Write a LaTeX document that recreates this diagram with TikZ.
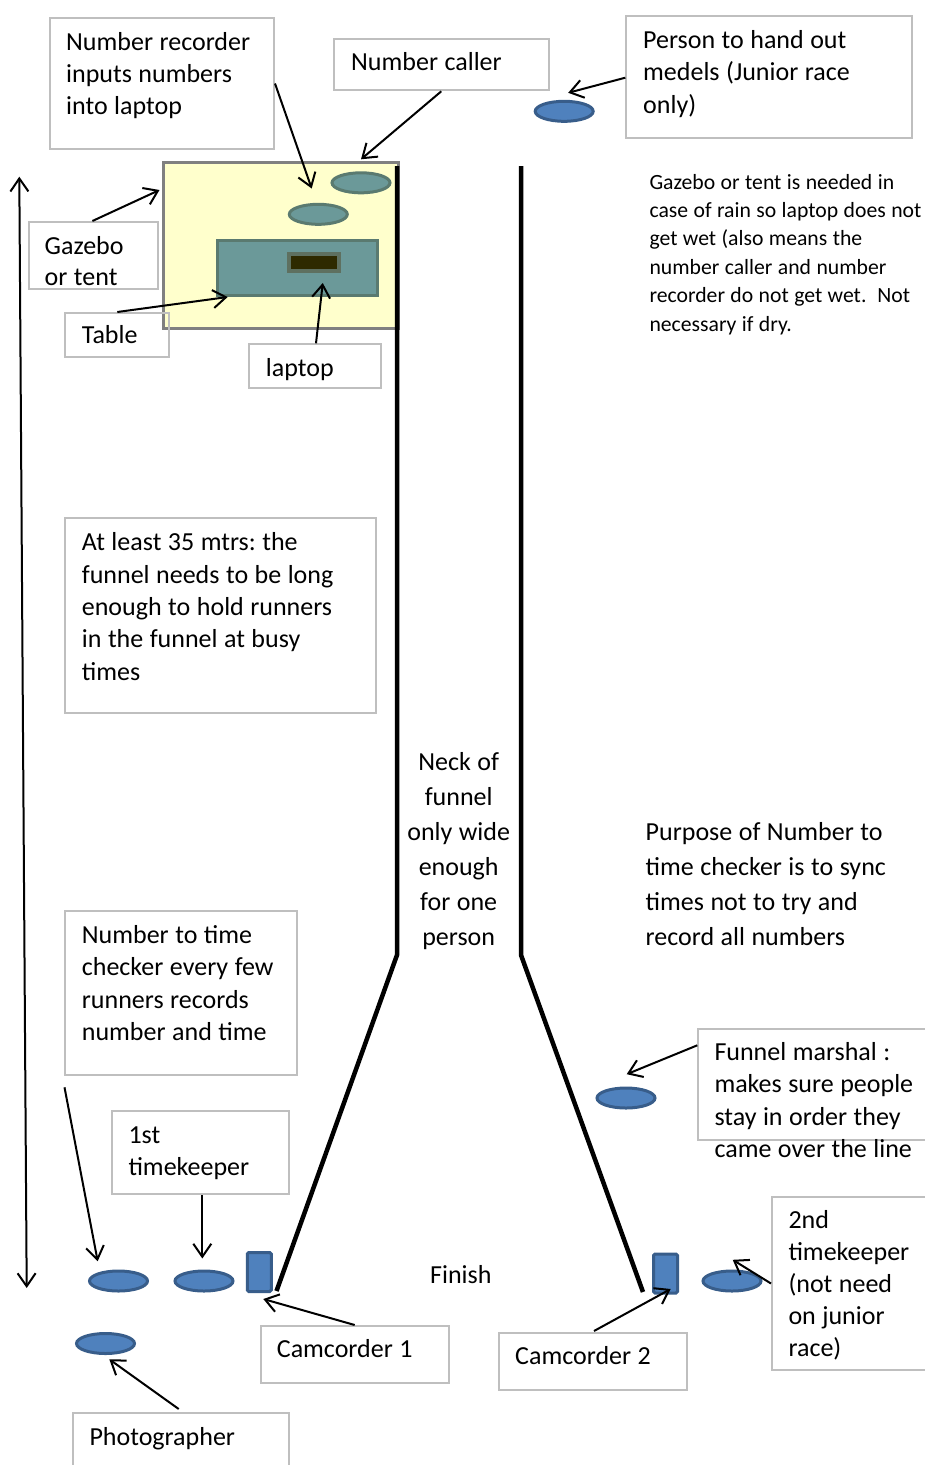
\documentclass[tikz,border=0pt]{standalone}
\usepackage{fontspec}
\setmainfont{Carlito}
\usetikzlibrary{arrows.meta,shapes.geometric,calc}
\definecolor{boxgray}{HTML}{BFBFBF}
\definecolor{gazfill}{HTML}{FFFFCC}
\definecolor{gazline}{HTML}{808080}
\definecolor{tealfill}{HTML}{6B9999}
\definecolor{tealline}{HTML}{5A7A70}
\definecolor{scrline}{HTML}{5E7060}
\definecolor{scrfill}{HTML}{2E2A00}
\definecolor{bluefill}{HTML}{4F81BD}
\definecolor{blueline}{HTML}{385D8A}
\frenchspacing
\newcommand\tsz[2]{\fontsize{#1}{#2}\selectfont}
\begin{document}
\begin{tikzpicture}[x=1pt,y=-1pt,
  tight/.style={execute at begin node={\spaceskip=0.25em\relax}},
  box/.style={draw=boxgray,line width=2pt,rectangle,inner sep=0pt,anchor=north west},
  txt/.style={tight,anchor=base west,inner sep=0pt,text width=330pt,align=left,font=\tsz{26}{32.4}},
  small/.style={tight,anchor=base west,inner sep=0pt,text width=300pt,align=left,font=\tsz{21.7}{28.4}},
  person/.style={ellipse,draw=blueline,fill=bluefill,line width=3pt,minimum width=58pt,minimum height=20pt,inner sep=0pt},
  tperson/.style={ellipse,draw=tealline,fill=tealfill,line width=3pt,minimum width=58pt,minimum height=20pt,inner sep=0pt},
  cam/.style={rectangle,rounded corners=1.5pt,draw=blueline,fill=bluefill,line width=3pt,minimum width=24pt,minimum height=39pt,inner sep=0pt},
  arr/.style={line width=2pt,-{Straight Barb[length=13pt,width=18pt]}},
  funnel/.style={line width=4.5pt}]
\useasboundingbox (0,0) rectangle (924,1465);

% gazebo and its contents
\node[draw=gazline,fill=gazfill,line width=3pt,rectangle,inner sep=0pt,anchor=north west,minimum width=235pt,minimum height=166pt] (gazebo) at (161.5,161) {};
\node[draw=tealline,fill=tealfill,line width=3pt,rectangle,inner sep=0pt,anchor=north west,minimum width=160pt,minimum height=55pt] (table) at (216,239) {};
\node[draw=scrline,line width=4.5pt,fill=scrfill,rectangle,inner sep=0pt,anchor=north west,minimum width=50pt,minimum height=17pt] (laptop) at (286.5,251.5) {};
\node[tperson] (recorder) at (318.3,214.3) {};
\node[tperson] (caller) at (361,182.8) {};

% funnel
\coordinate (lt) at (397,166);
\coordinate (lb) at (397,955);
\coordinate (le) at (276.5,1291);
\coordinate (rt) at (521,166);
\coordinate (rb) at (521,955);
\coordinate (re) at (643,1292);
\draw[funnel] (lt) -- (lb) -- (le);
\draw[funnel] (rt) -- (rb) -- (re);

% people and cameras
\node[person] (medal) at (564.2,111.3) {};
\node[person] (checker) at (118.5,1281) {};
\node[person] (tk1) at (204,1281) {};
\node[person] (photo) at (105.5,1343.5) {};
\node[person] (marshal) at (626,1098) {};
\node[person] (tk2) at (732,1281) {};
\node[cam] (cam1) at (259.3,1272) {};
\node[cam] (cam2) at (665.5,1273.5) {};

% label boxes
\node[box,minimum width=224pt,minimum height=131pt] (brec) at (49,17) {};
\node[box,minimum width=215pt,minimum height=51pt] (bcaller) at (333.3,38.3) {};
\node[box,minimum width=286pt,minimum height=122pt] (bperson) at (625.3,15) {};
\node[box,minimum width=129pt,minimum height=67pt] (bgaz) at (27.7,221) {};
\node[box,minimum width=104pt,minimum height=44pt] (btable) at (64.3,312) {};
\node[box,minimum width=132pt,minimum height=44pt] (blaptop) at (248.3,343.3) {};
\node[box,minimum width=311pt,minimum height=195pt] (bleast) at (64.3,517) {};
\node[box,minimum width=232pt,minimum height=164pt] (bntt) at (64.3,910.3) {};
\node[box,minimum width=177pt,minimum height=83pt] (btk1) at (111,1110.3) {};
\node[box,minimum width=240pt,minimum height=111pt] (bmarshal) at (697.3,1028.3) {};
\node[box,minimum width=170pt,minimum height=173pt] (btk2) at (771,1196) {};
\node[box,minimum width=188pt,minimum height=57pt] (bcam1) at (259.7,1325) {};
\node[box,minimum width=188pt,minimum height=57pt] (bcam2) at (497.7,1332) {};
\node[box,minimum width=216pt,minimum height=70pt] (bphoto) at (72,1412) {};

% texts
\node[txt] (trec) at (66,50) {Number recorder\\inputs numbers\\into laptop};
\node[txt] (tcaller) at (351,70.7) {Number caller};
\node[txt] (tperson) at (643,48.5) {Person to hand out\\medels (Junior race\\only)};
\node[txt,font=\tsz{26}{31.7}] (tgaz) at (44.5,254) {Gazebo\\or tent};
\node[txt] (ttable) at (81.7,343.3) {Table};
\node[txt] (tlaptop) at (265.7,376) {laptop};
\node[small] (tnote) at (649.3,189) {Gazebo or tent is needed in\\case of rain so laptop does not\\get wet (also means the\\number caller and number\\recorder do not get wet.\ \ Not\\necessary if dry.};
\node[txt] (tleast) at (81.7,550.7) {At least 35 mtrs: the\\funnel needs to be long\\enough to hold runners\\in the funnel at busy\\times};
\node[tight,anchor=base,inner sep=0pt,text width=140pt,align=center,font=\tsz{26}{35}] (tneck) at (458.7,770.7) {Neck of\\funnel\\only wide\\enough\\for one\\person};
\node[txt,font=\tsz{26}{35}] (tpurpose) at (645.5,840) {Purpose of Number to\\time checker is to sync\\times not to try and\\record all numbers};
\node[txt] (tntt) at (81.7,943.3) {Number to time\\checker every few\\runners records\\number and time};
\node[txt,font=\tsz{26}{32}] (ttk1) at (128.3,1143.3) {1st\\timekeeper};
\node[txt,font=\tsz{26}{32.2}] (tmarshal) at (714.3,1060.7) {Funnel marshal :\\makes sure people\\stay in order they\\came over the line};
\node[txt,font=\tsz{26}{32.1}] (ttk2) at (788.3,1228.3) {2nd\\timekeeper\\(not need\\on junior\\race)};
\node[txt] (tfinish) at (430,1283.3) {Finish};
\node[txt] (tcam1) at (276.7,1357.7) {Camcorder 1};
\node[txt] (tcam2) at (515,1364.3) {Camcorder 2};
\node[txt] (tphoto) at (89.3,1445) {Photographer};

% connectors
\draw[arr] (brec.east) -- ($(recorder.north)+(-6.6,-14.3)$);
\draw[arr] ($(bcaller.south)+(-0.5,0)$) -- ($(caller.north)+(0,-12)$);
\draw[arr] ($(bperson.west)+(0,0.7)$) -- ($(medal.north)+(4,-7)$);
\draw[arr] ($(bgaz.north)+(-0.8,0)$) -- ($(gazebo.north west)+(-2,29)$);
\draw[arr] ($(btable.north)+(0,0)$) -- ($(table.south west)+(11.7,0)$);
\draw[arr] ($(blaptop.north)+(0.7,0)$) -- ($(laptop.south)+(9,10)$);
\draw[arr] ($(bntt.south west)+(0.2,11)$) -- ($(checker.north)+(-20.8,-8.3)$);
\draw[arr] ($(btk1.south)+(1.8,0)$) -- ($(tk1.north)+(-1.7,-11)$);
\draw[arr] ($(bcam1.north)+(0,0)$) -- ($(cam1.south)+(4,6)$);
\draw[arr] ($(bphoto.north)+(-2.3,-3)$) -- ($(photo.south)+(3.8,4.3)$);
\draw[arr] ($(bmarshal.north west)+(0,17)$) -- ($(marshal.north)+(0.7,-12.3)$);
\draw[arr] ($(btk2.west)+(0,0)$) -- ($(tk2.north)+(0.7,-9.7)$);
\draw[arr] ($(bcam2.north)+(1.3,-1)$) -- ($(cam2.south)+(5.2,-5.5)$);
\coordinate (dtop) at (19.3,176.7);
\coordinate (dbot) at (26.7,1288);
\draw[line width=2pt,{Straight Barb[length=13pt,width=18pt]}-{Straight Barb[length=13pt,width=18pt]}] (dtop) -- (dbot);
\end{tikzpicture}
\end{document}
